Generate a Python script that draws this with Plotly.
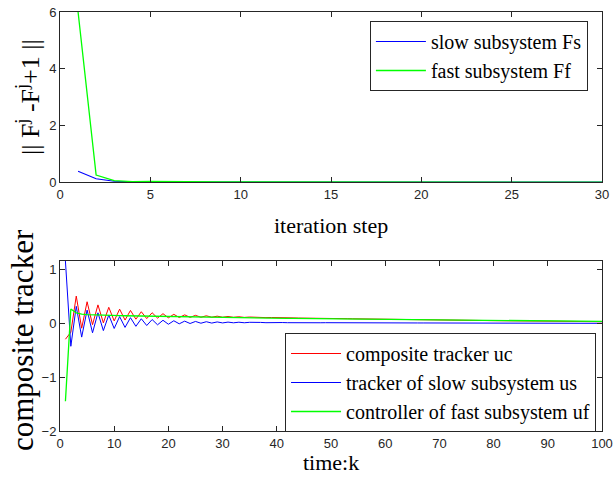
import plotly.graph_objects as go

# ---- top panel data ----
iter_step = list(range(1, 31))
slow_Fs = [0.38, 0.12, 0.03, 0.01, 0.004, 0.002, 0.001, 0.001, 0.001, 0.0,
           0.0, 0.0, 0.0, 0.0, 0.0, 0.0, 0.0, 0.0, 0.0, 0.0,
           0.0, 0.0, 0.0, 0.0, 0.0, 0.0, 0.0, 0.0, 0.0, 0.0]
fast_Ff = [6.0, 0.25, 0.05, 0.02, 0.025, 0.015, 0.01, 0.015, 0.008, 0.005,
           0.004, 0.003, 0.003, 0.002, 0.002, 0.002, 0.001, 0.001, 0.001, 0.001,
           0.001, 0.001, 0.001, 0.001, 0.001, 0.001, 0.001, 0.001, 0.001, 0.001]

# ---- bottom panel data ----
time_k = list(range(1, 101))
uc = [-0.30, -0.17, 0.50, -0.095, 0.395, -0.03, 0.337, 0.004, 0.292, 0.04,
      0.258, 0.056, 0.234, 0.072, 0.21, 0.083, 0.191, 0.092, 0.174, 0.098,
      0.162, 0.103, 0.152, 0.106, 0.143, 0.108, 0.135, 0.108, 0.128, 0.108,
      0.122, 0.107, 0.117, 0.105, 0.112, 0.104, 0.107, 0.101, 0.103, 0.098,
      0.100, 0.095, 0.096, 0.093, 0.093, 0.090, 0.090, 0.087, 0.087, 0.084,
      0.083, 0.082, 0.081, 0.079, 0.077, 0.076, 0.075, 0.073, 0.072, 0.071,
      0.070, 0.067, 0.066, 0.065, 0.064, 0.062, 0.061, 0.060, 0.059, 0.057,
      0.056, 0.055, 0.054, 0.052, 0.051, 0.050, 0.049, 0.047, 0.046, 0.045,
      0.044, 0.043, 0.041, 0.041, 0.040, 0.039, 0.038, 0.036, 0.035, 0.035,
      0.034, 0.033, 0.032, 0.031, 0.030, 0.029, 0.028, 0.028, 0.026, 0.025]
us = [1.15, -0.43, 0.31, -0.26, 0.24, -0.18, 0.19, -0.14, 0.15, -0.10,
      0.12, -0.08, 0.10, -0.06, 0.08, -0.045, 0.065, -0.032, 0.052, -0.022,
      0.043, -0.014, 0.036, -0.008, 0.030, -0.003, 0.025, 0.000, 0.021, 0.003,
      0.018, 0.005, 0.016, 0.006, 0.014, 0.007, 0.012, 0.007, 0.011, 0.007,
      0.010, 0.007, 0.009, 0.007, 0.008, 0.007, 0.008, 0.006, 0.007, 0.006,
      0.006, 0.006, 0.006, 0.005, 0.005, 0.005, 0.005, 0.004, 0.004, 0.004,
      0.004, 0.003, 0.003, 0.003, 0.003, 0.002, 0.002, 0.002, 0.002, 0.001,
      0.001, 0.001, 0.001, 0.000, 0.000, 0.000, 0.000, -0.001, -0.001, -0.001,
      -0.001, -0.001, -0.002, -0.002, -0.002, -0.002, -0.002, -0.003, -0.003, -0.003,
      -0.003, -0.003, -0.003, -0.004, -0.004, -0.004, -0.004, -0.004, -0.005, -0.005]
uf = [-1.45, 0.26, 0.19, 0.165, 0.155, 0.150, 0.147, 0.144, 0.142, 0.140,
      0.138, 0.136, 0.134, 0.132, 0.130, 0.128, 0.126, 0.124, 0.122, 0.120,
      0.119, 0.117, 0.116, 0.114, 0.113, 0.111, 0.110, 0.108, 0.107, 0.105,
      0.104, 0.102, 0.101, 0.099, 0.098, 0.097, 0.095, 0.094, 0.092, 0.091,
      0.090, 0.088, 0.087, 0.086, 0.085, 0.083, 0.082, 0.081, 0.080, 0.078,
      0.077, 0.076, 0.075, 0.074, 0.072, 0.071, 0.070, 0.069, 0.068, 0.067,
      0.066, 0.064, 0.063, 0.062, 0.061, 0.060, 0.059, 0.058, 0.057, 0.056,
      0.055, 0.054, 0.053, 0.052, 0.051, 0.050, 0.049, 0.048, 0.047, 0.046,
      0.045, 0.044, 0.043, 0.043, 0.042, 0.041, 0.040, 0.039, 0.038, 0.038,
      0.037, 0.036, 0.035, 0.035, 0.034, 0.033, 0.032, 0.032, 0.031, 0.030]

top_xticks = [0, 5, 10, 15, 20, 25, 30]
top_yticks = [0, 2, 4, 6]
bot_xticks = [0, 10, 20, 30, 40, 50, 60, 70, 80, 90, 100]
bot_yticks = [-2, -1, 0, 1]

AX = "#262626"
SERIF = "Liberation Serif"
SANS = "Liberation Sans"

fig = go.Figure()
fig.add_trace(go.Scatter(x=iter_step, y=slow_Fs, mode="lines", name="slow subsystem Fs",
                         line=dict(color="#0000ff", width=1.1), xaxis="x", yaxis="y", legend="legend"))
fig.add_trace(go.Scatter(x=iter_step, y=fast_Ff, mode="lines", name="fast subsystem Ff",
                         line=dict(color="#00ff00", width=1.3), xaxis="x", yaxis="y", legend="legend"))
fig.add_trace(go.Scatter(x=time_k, y=uc, mode="lines", name="composite tracker uc",
                         line=dict(color="#ff0000", width=1), xaxis="x2", yaxis="y2", legend="legend2"))
fig.add_trace(go.Scatter(x=time_k, y=us, mode="lines", name="tracker of slow subsystem us",
                         line=dict(color="#0000ff", width=1), xaxis="x2", yaxis="y2", legend="legend2"))
fig.add_trace(go.Scatter(x=time_k, y=uf, mode="lines", name="controller of fast subsystem uf",
                         line=dict(color="#00ff00", width=1.3), xaxis="x2", yaxis="y2", legend="legend2"))

axcommon = dict(showline=True, linecolor=AX, linewidth=1, mirror="ticks", ticks="inside",
                ticklen=5, tickcolor=AX, showgrid=False, zeroline=False, automargin=False,
                tickfont=dict(family=SANS, size=13, color=AX))

fig.update_layout(
    width=613, height=484,
    margin=dict(l=60, r=11, t=12, b=53, autoexpand=False),
    paper_bgcolor="white", plot_bgcolor="white",
    showlegend=True,
    xaxis=dict(domain=[0, 1], anchor="y", range=[0, 30], tickvals=top_xticks, **axcommon),
    yaxis=dict(domain=[0.594, 1], anchor="x", range=[0, 6], tickvals=top_yticks, **axcommon),
    xaxis2=dict(domain=[0, 1], anchor="y2", range=[0, 100], tickvals=bot_xticks, **axcommon),
    yaxis2=dict(domain=[0, 0.4057], anchor="x2", range=[-2, 1.15], tickvals=bot_yticks, **axcommon),
    legend=dict(x=0.974, y=0.9785, xanchor="right", yanchor="top",
                bgcolor="white", bordercolor=AX, borderwidth=1,
                font=dict(family=SERIF, size=20, color="black"),
                itemwidth=50, tracegroupgap=0),
    legend2=dict(x=0.989, y=(431 - 333) / 419, xanchor="right", yanchor="top",
                 bgcolor="white", bordercolor=AX, borderwidth=1,
                 font=dict(family=SERIF, size=20, color="black"),
                 itemwidth=50, tracegroupgap=0),
    annotations=[
        dict(text="iteration step", xref="paper", yref="paper", x=0.5, y=(431 - 226) / 419,
             xanchor="center", yanchor="middle", showarrow=False,
             font=dict(family=SERIF, size=22, color="black")),
        dict(text="time:k", xref="paper", yref="paper", x=0.5, y=(431 - 462) / 419,
             xanchor="center", yanchor="middle", showarrow=False,
             font=dict(family=SERIF, size=22, color="black")),
        dict(text="composite tracker", xref="paper", yref="paper", x=(22 - 60) / 542,
             y=(431 - 340) / 419, xanchor="center", yanchor="middle", textangle=-90,
             showarrow=False, font=dict(family=SERIF, size=31, color="black")),
        dict(text="|| F<sup>j</sup> -F<sup>j</sup>+1 ||", xref="paper", yref="paper",
             x=(28 - 60) / 542, y=(431 - 97) / 419, xanchor="center", yanchor="middle",
             textangle=-90, showarrow=False, font=dict(family=SERIF, size=26, color="black")),
    ],
)

fig.write_html("out.html", config={"displayModeBar": False},
               post_script="document.body.style.margin='0';document.body.style.overflow='hidden';")
